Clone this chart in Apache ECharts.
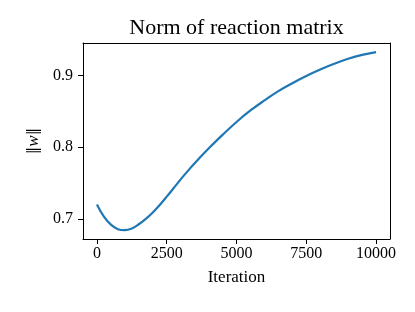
<!DOCTYPE html>
<html>
<head>
<meta charset="utf-8">
<script src="https://cdn.jsdelivr.net/npm/echarts@6/dist/echarts.min.js"></script>
<style>
html,body{margin:0;padding:0;background:#fff;}
#chart{width:415px;height:312px;}
</style>
</head>
<body>
<div id="chart"></div>
<script>
const iterations = [0, 250, 500, 750, 1000, 1250, 1500, 1750, 2000, 2250, 2500, 2750, 3000, 3250, 3500, 4000, 4500, 5000, 5500, 6000, 6500, 7000, 7500, 8000, 8500, 9000, 9500, 10000];
const normValues = [0.720, 0.703, 0.692, 0.6857, 0.6843, 0.6867, 0.6925, 0.700, 0.709, 0.7195, 0.731, 0.743, 0.755, 0.7665, 0.7775, 0.798, 0.817, 0.835, 0.851, 0.865, 0.878, 0.889, 0.899, 0.908, 0.916, 0.923, 0.9285, 0.9324];
const xTicks = [0, 2500, 5000, 7500, 10000];
const yTicks = [0.7, 0.8, 0.9];

const FONT = "'Liberation Serif', 'DejaVu Serif', serif";
const spine = {show: true, onZero: false, lineStyle: {color: '#000', width: 1}};
const chart = echarts.init(document.getElementById('chart'), null, {renderer: 'canvas'});
chart.setOption({
  animation: false,
  backgroundColor: '#fff',
  grid: {left: 83, right: 25, top: 43, bottom: 73, containLabel: false},
  graphic: [{
    type: 'text',
    x: 236.5, y: 28,
    style: {text: 'Norm of reaction matrix', font: "22px " + FONT, fill: '#000', align: 'center', verticalAlign: 'middle'}
  }],
  xAxis: [{
    type: 'value', min: -500, max: 10500,
    name: 'Iteration', nameLocation: 'middle', nameGap: 30,
    nameTextStyle: {fontFamily: FONT, fontSize: 17, color: '#000', verticalAlign: 'top'},
    axisLine: spine,
    axisTick: {show: true, length: 5, lineStyle: {color: '#000', width: 1}, customValues: xTicks},
    axisLabel: {fontFamily: FONT, fontSize: 16, color: '#000', margin: 7, customValues: xTicks, formatter: v => String(v)},
    splitLine: {show: false}
  }, {
    type: 'value', position: 'top', min: -500, max: 10500,
    axisLine: spine, axisTick: {show: false}, axisLabel: {show: false}, splitLine: {show: false}
  }],
  yAxis: [{
    type: 'value', min: 0.672, max: 0.945,
    name: '{n|‖}{w|w}{n|‖}', nameLocation: 'middle', nameGap: 37, nameRotate: 90,
    nameTextStyle: {
      color: '#000',
      rich: {
        n: {fontFamily: "'DejaVu Serif', serif", fontSize: 15, color: '#000'},
        w: {fontFamily: FONT, fontSize: 17, fontStyle: 'italic', color: '#000'}
      }
    },
    axisLine: spine,
    axisTick: {show: true, length: 5, lineStyle: {color: '#000', width: 1}, customValues: yTicks},
    axisLabel: {fontFamily: FONT, fontSize: 16, color: '#000', margin: 10, customValues: yTicks, formatter: v => v.toFixed(1)},
    splitLine: {show: false}
  }, {
    type: 'value', position: 'right', min: 0.672, max: 0.945,
    axisLine: spine, axisTick: {show: false}, axisLabel: {show: false}, splitLine: {show: false}
  }],
  series: [{
    type: 'line',
    data: iterations.map((x, i) => [x, normValues[i]]),
    showSymbol: false,
    smooth: 0.4,
    lineStyle: {color: '#1f77b4', width: 2.2},
    itemStyle: {color: '#1f77b4'}
  }]
});
</script>
</body>
</html>
